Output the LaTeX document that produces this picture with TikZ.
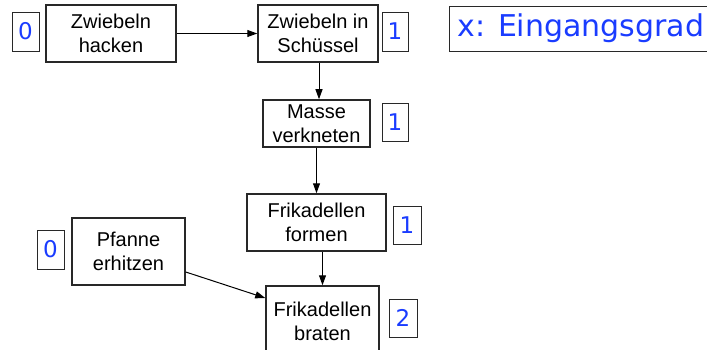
\documentclass[tikz,border=0pt]{standalone}
\usepackage{fontspec}
\setmainfont{Liberation Sans}
\newfontfamily\numfont{DejaVu Sans}
\usetikzlibrary{arrows.meta}
\definecolor{degblue}{RGB}{26,60,255}
\definecolor{frame}{RGB}{40,40,40}
\tikzset{
  task/.style={draw=frame, line width=1.5pt, fill=white, align=center,
    inner sep=0pt, font=\fontsize{20}{24}\selectfont},
  degree/.style={draw=frame, line width=0.9pt, inner sep=0pt,
    text=degblue, font=\numfont\fontsize{23}{26}\selectfont},
  flow/.style={line width=1pt, -{Triangle[length=10pt,width=7pt]}}
}
\begin{document}
\begin{tikzpicture}[x=1pt,y=-1pt]
\useasboundingbox (0,0) rectangle (707,350);
\clip (0,0) rectangle (707,350);
% process steps
\node[task, minimum width=130pt, minimum height=57pt] (hack) at (111,33.5) {Zwiebeln\\hacken};
\node[task, minimum width=120pt, minimum height=57pt] (bowl) at (318,33.5) {Zwiebeln in\\Schüssel};
\node[task, minimum width=107pt, minimum height=47pt] (knead) at (316.5,123.5) {Masse\\verkneten};
\node[task, minimum width=139pt, minimum height=57pt] (form) at (316.5,222.5) {Frikadellen\\formen};
\node[task, minimum width=113pt, minimum height=67pt] (pan) at (128.5,251.5) {Pfanne\\erhitzen};
\node[task, minimum width=113pt, minimum height=70pt] (fry) at (322.5,321) {Frikadellen\\braten};
% in-degree tags
\node[degree, minimum width=27pt, minimum height=39pt] (d0a) at (25.5,31.5) {0};
\node[degree, minimum width=26pt, minimum height=39pt] (d1a) at (395,31.5) {1};
\node[degree, minimum width=26pt, minimum height=38pt] (d1b) at (395,122) {1};
\node[degree, minimum width=28pt, minimum height=38pt] (d1c) at (407,225) {1};
\node[degree, minimum width=27pt, minimum height=39pt] (d0b) at (50.5,249.5) {0};
\node[degree, minimum width=28pt, minimum height=38pt] (d2) at (403,318) {2};
% legend
\node[degree, anchor=west, minimum width=262pt, minimum height=45pt, inner xsep=8pt,
  font=\numfont\fontsize{30}{34}\selectfont] (legend) at (449,28.5) {x: Eingangsgrad};
% dependencies
\draw[flow] (hack.east) -- (bowl.west);
\draw[flow] ([xshift=1pt]bowl.south) -- ([xshift=1pt]bowl.south |- knead.north);
\draw[flow] (knead.south) -- (knead.south |- form.north);
\draw[flow] (fry.north |- form.south) -- (fry.north);
\draw[flow] ([yshift=-20.5pt]pan.east) -- ([yshift=23pt]fry.west);
\end{tikzpicture}
\end{document}
